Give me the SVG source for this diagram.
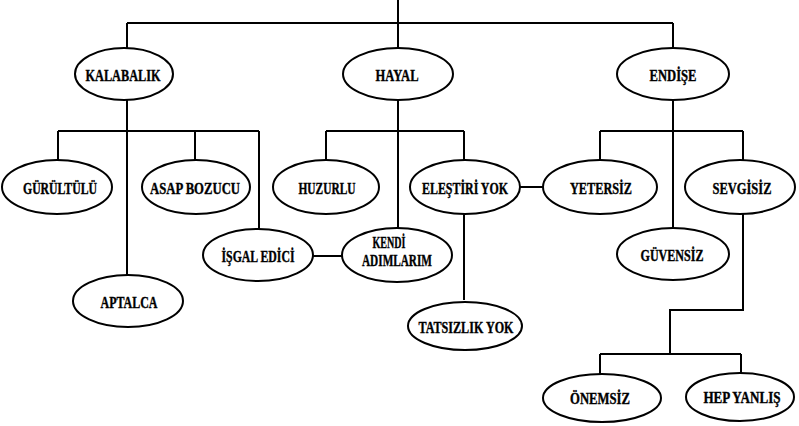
<svg xmlns="http://www.w3.org/2000/svg" width="799" height="426" viewBox="0 0 799 426">
<style>
.n ellipse{fill:#fff;stroke:#000;stroke-width:2}
.n text{font-family:"Liberation Serif","Times New Roman",serif;font-weight:bold;font-size:17px;text-anchor:middle;fill:#000;stroke:#000;stroke-width:0.4}
#edges path{fill:none;stroke:#000;stroke-width:2}
</style>
<rect width="799" height="426" fill="#fff"/>
<g id="edges">
<path d="M398 0V23M127 23H673M127 23V48M398 23V48M673 23V48"/>
<path d="M127 100V275M58 131H259M58 131V161M195 131V161M259 131V229"/>
<path d="M398 100V228M326 131H464M326 131V161M464 131V300"/>
<path d="M673 100V228M600 131H743M600 131V161M743 131V161"/>
<path d="M520 187H544M313 256H343"/>
<path d="M743 213V310H670V354M600 354H741M600 354V374M741 354V374"/>
</g>
<g id="kalabalik" class="n"><ellipse cx="124" cy="74" rx="49" ry="26"/><text x="123" y="81" textLength="75" lengthAdjust="spacingAndGlyphs">KALABALIK</text></g>
<g id="hayal" class="n"><ellipse cx="398" cy="74" rx="55" ry="26"/><text x="397" y="81" textLength="43" lengthAdjust="spacingAndGlyphs">HAYAL</text></g>
<g id="endise" class="n"><ellipse cx="673" cy="74" rx="56" ry="26"/><text x="673" y="81" textLength="47" lengthAdjust="spacingAndGlyphs">ENDİŞE</text></g>
<g id="gurultulu" class="n"><ellipse cx="57" cy="187" rx="55" ry="27"/><text x="60" y="194" textLength="74" lengthAdjust="spacingAndGlyphs">GÜRÜLTÜLÜ</text></g>
<g id="asap" class="n"><ellipse cx="196" cy="187" rx="54" ry="27"/><text x="195" y="194" textLength="90" lengthAdjust="spacingAndGlyphs">ASAP BOZUCU</text></g>
<g id="huzurlu" class="n"><ellipse cx="326" cy="187" rx="53" ry="27"/><text x="327" y="194" textLength="57" lengthAdjust="spacingAndGlyphs">HUZURLU</text></g>
<g id="elestiri" class="n"><ellipse cx="465" cy="187" rx="55" ry="27"/><text x="465" y="194" textLength="86" lengthAdjust="spacingAndGlyphs">ELEŞTİRİ YOK</text></g>
<g id="yetersiz" class="n"><ellipse cx="600" cy="187" rx="57" ry="27"/><text x="601" y="194" textLength="62" lengthAdjust="spacingAndGlyphs">YETERSİZ</text></g>
<g id="sevgisiz" class="n"><ellipse cx="740" cy="187" rx="55" ry="27"/><text x="742" y="194" textLength="59" lengthAdjust="spacingAndGlyphs">SEVGİSİZ</text></g>
<g id="isgal" class="n"><ellipse cx="258" cy="255" rx="55" ry="26"/><text x="258" y="262" textLength="73" lengthAdjust="spacingAndGlyphs">İŞGAL EDİCİ</text></g>
<g id="kendi" class="n"><ellipse cx="397" cy="255" rx="55" ry="27"/><text x="389" y="248" textLength="33" lengthAdjust="spacingAndGlyphs">KENDİ</text><text x="397" y="266" textLength="70" lengthAdjust="spacingAndGlyphs">ADIMLARIM</text></g>
<g id="guvensiz" class="n"><ellipse cx="673" cy="254" rx="56" ry="26"/><text x="672" y="261" textLength="63" lengthAdjust="spacingAndGlyphs">GÜVENSİZ</text></g>
<g id="aptalca" class="n"><ellipse cx="128" cy="301" rx="55" ry="26"/><text x="129" y="308" textLength="57" lengthAdjust="spacingAndGlyphs">APTALCA</text></g>
<g id="tatsizlik" class="n"><ellipse cx="465" cy="326" rx="57" ry="24"/><text x="466" y="333" textLength="95" lengthAdjust="spacingAndGlyphs">TATSIZLIK YOK</text></g>
<g id="onemsiz" class="n"><ellipse cx="602" cy="398" rx="59" ry="24"/><text x="600" y="404" textLength="60" lengthAdjust="spacingAndGlyphs">ÖNEMSİZ</text></g>
<g id="hepyanlis" class="n"><ellipse cx="740" cy="397" rx="54" ry="24"/><text transform="translate(742 403) scale(0.77 1)" x="0" y="0">HEP YANLIŞ</text></g>
</svg>
